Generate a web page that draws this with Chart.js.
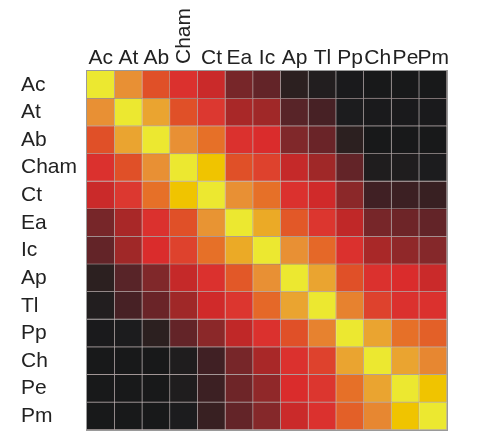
<!DOCTYPE html>
<html>
<head>
<meta charset="utf-8">
<script src="https://cdn.jsdelivr.net/npm/chart.js@4.4.0/dist/chart.umd.min.js"></script>
<style>
  html, body { margin: 0; padding: 0; background: #ffffff; }
  #wrap { width: 479px; height: 431px; position: relative; }
</style>
</head>
<body>
<div id="wrap"><canvas id="c"></canvas></div>
<script>
// Column / row labels (same taxa on both axes)
const colLabels = ['Ac', 'At', 'Ab', 'Cham', 'Ct', 'Ea', 'Ic', 'Ap', 'Tl', 'Pp', 'Ch', 'Pe', 'Pm'];
const rowLabels = ['Ac', 'At', 'Ab', 'Cham', 'Ct', 'Ea', 'Ic', 'Ap', 'Tl', 'Pp', 'Ch', 'Pe', 'Pm'];

// Estimated similarity values (0..1), one array per row
const rowAc   = [1.00, 0.75, 0.60, 0.52, 0.47, 0.30, 0.25, 0.10, 0.07, 0.03, 0.02, 0.02, 0.02];
const rowAt   = [0.75, 1.00, 0.80, 0.60, 0.55, 0.40, 0.38, 0.22, 0.17, 0.05, 0.03, 0.03, 0.03];
const rowAb   = [0.60, 0.80, 1.00, 0.75, 0.68, 0.52, 0.50, 0.32, 0.27, 0.10, 0.02, 0.02, 0.02];
const rowCham = [0.52, 0.60, 0.75, 1.00, 0.90, 0.60, 0.57, 0.46, 0.38, 0.25, 0.06, 0.06, 0.05];
const rowCt   = [0.47, 0.55, 0.68, 0.90, 1.00, 0.75, 0.68, 0.52, 0.48, 0.34, 0.15, 0.14, 0.13];
const rowEa   = [0.30, 0.40, 0.52, 0.60, 0.76, 1.00, 0.82, 0.62, 0.54, 0.45, 0.30, 0.28, 0.25];
const rowIc   = [0.25, 0.38, 0.50, 0.57, 0.68, 0.82, 1.00, 0.75, 0.66, 0.52, 0.40, 0.35, 0.33];
const rowAp   = [0.10, 0.22, 0.32, 0.46, 0.52, 0.62, 0.75, 1.00, 0.80, 0.60, 0.52, 0.50, 0.47];
const rowTl   = [0.07, 0.17, 0.27, 0.38, 0.48, 0.54, 0.66, 0.80, 1.00, 0.72, 0.57, 0.52, 0.52];
const rowPp   = [0.03, 0.05, 0.10, 0.25, 0.34, 0.45, 0.52, 0.60, 0.72, 1.00, 0.80, 0.68, 0.64];
const rowCh   = [0.02, 0.02, 0.02, 0.06, 0.15, 0.30, 0.40, 0.52, 0.57, 0.80, 1.00, 0.80, 0.73];
const rowPe   = [0.02, 0.02, 0.02, 0.06, 0.14, 0.28, 0.35, 0.50, 0.54, 0.68, 0.80, 1.00, 0.90];
const rowPm   = [0.02, 0.02, 0.02, 0.05, 0.13, 0.25, 0.33, 0.47, 0.52, 0.64, 0.73, 0.90, 1.00];

const rows = [rowAc, rowAt, rowAb, rowCham, rowCt, rowEa, rowIc, rowAp, rowTl, rowPp, rowCh, rowPe, rowPm];

// "hot"-like colour map (value stop -> rgb)
const cmap = [
  [0.00, [22, 23, 24]],
  [0.05, [28, 28, 30]],
  [0.10, [44, 32, 32]],
  [0.15, [64, 32, 36]],
  [0.22, [88, 36, 40]],
  [0.27, [106, 36, 40]],
  [0.32, [128, 40, 42]],
  [0.38, [160, 40, 40]],
  [0.45, [192, 40, 40]],
  [0.50, [218, 44, 44]],
  [0.55, [220, 56, 48]],
  [0.60, [224, 80, 40]],
  [0.68, [230, 112, 40]],
  [0.75, [232, 144, 52]],
  [0.80, [234, 164, 48]],
  [0.90, [240, 196, 0]],
  [1.00, [236, 232, 48]]
];
function colorFor(v) {
  for (let i = 1; i < cmap.length; i++) {
    if (v <= cmap[i][0]) {
      const [v0, c0] = cmap[i - 1], [v1, c1] = cmap[i];
      const t = (v - v0) / (v1 - v0);
      const c = c0.map((x, k) => Math.round(x + (c1[k] - x) * t));
      return `rgb(${c[0]},${c[1]},${c[2]})`;
    }
  }
  const c = cmap[cmap.length - 1][1];
  return `rgb(${c[0]},${c[1]},${c[2]})`;
}

// each row is one stacked dataset; each cell occupies one unit of the y scale
const datasets = rows.map((vals, i) => ({
  label: rowLabels[i],
  data: vals.map(() => 1),
  backgroundColor: vals.map(colorFor),
  borderColor: 'rgba(40,10,10,0.35)',
  borderWidth: { top: 0, left: 0, right: 1, bottom: 1 },
  borderSkipped: false,
  barPercentage: 1.0,
  categoryPercentage: 1.0
}));

const FONT = { family: "'Liberation Sans', Arial, sans-serif", size: 21 };

const extrasPlugin = {
  id: 'extras',
  afterDraw(chart) {
    const { ctx, chartArea: a, scales } = chart;
    ctx.save();
    // frame
    ctx.strokeStyle = '#9a9a9a';
    ctx.lineWidth = 1;
    ctx.strokeRect(a.left - 0.5, a.top - 0.5, a.right - a.left + 1, a.bottom - a.top + 1);
    // rotated long column label
    const idx = colLabels.indexOf('Cham');
    const x = scales.x.getPixelForTick(idx);
    ctx.fillStyle = '#222';
    ctx.font = `${FONT.size}px ${FONT.family}`;
    ctx.translate(x + 6, a.top - 7);
    ctx.rotate(-Math.PI / 2);
    ctx.textAlign = 'left';
    ctx.textBaseline = 'alphabetic';
    ctx.fillText('Cham', 0, 0);
    ctx.restore();
  }
};

new Chart(document.getElementById('c'), {
  type: 'bar',
  data: { labels: colLabels, datasets },
  plugins: [extrasPlugin],
  options: {
    responsive: true,
    maintainAspectRatio: false,
    animation: false,
    layout: { padding: { left: 21, right: 32, top: 0, bottom: 1 } },
    plugins: { legend: { display: false }, tooltip: { enabled: false } },
    scales: {
      x: {
        position: 'top',
        stacked: true,
        grid: { display: false, drawTicks: false },
        border: { display: false },
        ticks: {
          color: '#222',
          font: FONT,
          padding: 0,
          autoSkip: false,
          maxRotation: 0,
          minRotation: 0,
          callback: (v, i) => (colLabels[i] === 'Cham' ? '' : colLabels[i])
        },
        afterFit: (s) => { s.height = 71; s.paddingLeft = 0; s.paddingRight = 0; }
      },
      y: {
        stacked: true,
        reverse: true,
        min: 0,
        max: rowLabels.length,
        grid: { display: false, drawTicks: false },
        border: { display: false },
        afterBuildTicks: (s) => { s.ticks = rowLabels.map((_, i) => ({ value: i + 0.5 })); },
        ticks: {
          color: '#222',
          font: FONT,
          crossAlign: 'far',
          padding: 0,
          callback: (v, i) => rowLabels[i]
        },
        afterFit: (s) => { s.width = 66; s.paddingTop = 0; s.paddingBottom = 0; }
      }
    }
  }
});
</script>
</body>
</html>
